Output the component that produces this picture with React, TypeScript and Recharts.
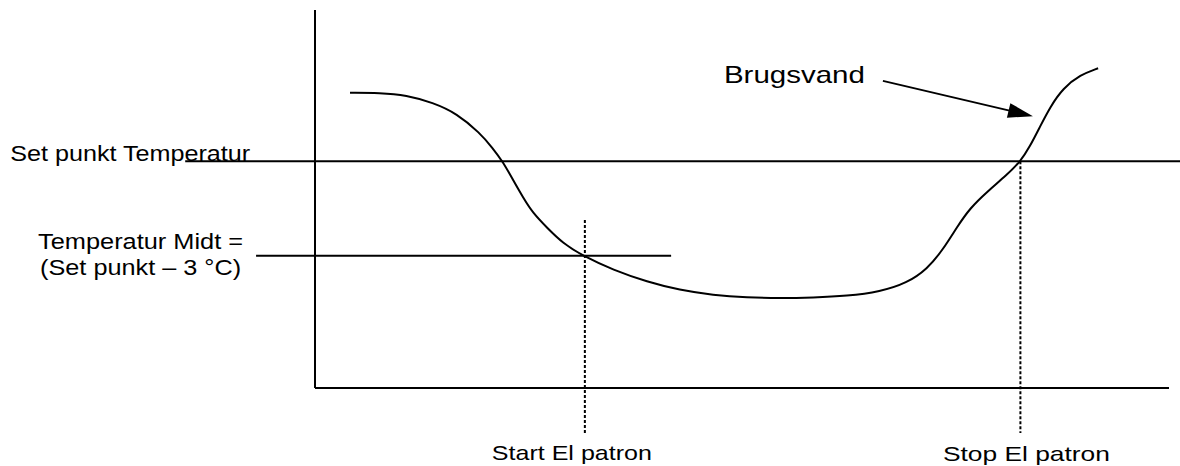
import React from "react";
import { LineChart, Line, XAxis, YAxis, ReferenceLine } from "recharts";

// Time (arbitrary units, 0..100) and temperature (°C) of the curve
const timeValues = [4.1, 7.6, 10.7, 13.8, 16.6, 19.3, 20.8, 22.0, 23.2, 24.4, 25.5, 27.2, 29.0, 31.4, 34.9, 38.9, 42.7, 46.6, 50.6, 54.5, 58.3, 62.3, 66.2, 69.3, 71.7, 73.5, 75.2, 76.7, 78.7, 81.0, 82.6, 83.7, 84.9, 86.1, 87.6, 89.6, 91.7];
const tempValues = [49.37, 49.37, 49.3, 49.06, 48.72, 48.1, 47.62, 47.18, 46.6, 46.03, 45.56, 45.08, 44.6, 44.19, 43.75, 43.37, 43.11, 42.95, 42.87, 42.85, 42.87, 42.92, 43.06, 43.33, 43.78, 44.38, 45.12, 45.71, 46.23, 46.76, 47.19, 47.66, 48.3, 48.93, 49.52, 49.94, 50.15];

const setPoint = 47.2;
const midPoint = 44.2; // set point - 3 °C
const startTime = 31.6;
const stopTime = 82.6;
const xDomain = [0, 100];
const yDomain = [40, 52];

const setLineSpan = [-15.2, 101.3];
const midLineSpan = [-6.9, 41.7];
const startMarkerSpan = [45.33, 38.57];
const stopMarkerSpan = [setPoint, 38.57];
const arrowFrom = { x: 66.5, y: 49.75 };
const arrowTo = { x: 84.07, y: 48.63 };

const labels = {
  setPoint: "Set punkt Temperatur",
  midLine1: "Temperatur Midt =",
  midLine2: "(Set punkt \u2013 3 \u00b0C)",
  start: "Start El patron",
  stop: "Stop El patron",
  water: "Brugsvand",
};

const data = timeValues.map((t, i) => ({ t, temp: tempValues[i] }));

const FONT = "'Liberation Sans', Arial, sans-serif";

type TL = { text: string; dx: number; dy: number; size: number; len: number; anchor?: "start" | "middle" | "end"; fromBottom?: boolean };

const MultiLabel = (props: any) => {
  const { viewBox, items } = props;
  if (!viewBox) return null;
  return (
    <g>
      {(items as TL[]).map((it, i) => {
        const baseY = it.fromBottom ? viewBox.y + viewBox.height : viewBox.y;
        return (
          <text
            key={i}
            x={viewBox.x + it.dx}
            y={baseY + it.dy}
            fontFamily={FONT}
            fontSize={it.size}
            fill="#000"
            textAnchor={it.anchor || "start"}
            textLength={it.len}
            lengthAdjust="spacingAndGlyphs"
          >
            {it.text}
          </text>
        );
      })}
    </g>
  );
};

const ArrowShape = (props: any) => {
  const { x1, y1, x2, y2 } = props;
  if ([x1, y1, x2, y2].some((v) => typeof v !== "number" || isNaN(v))) return null;
  const dx = x2 - x1;
  const dy = y2 - y1;
  const L = Math.sqrt(dx * dx + dy * dy);
  const ux = dx / L;
  const uy = dy / L;
  const headLen = 25;
  const headW = 7.5;
  const bx = x2 - ux * headLen;
  const by = y2 - uy * headLen;
  const px = -uy;
  const py = ux;
  return (
    <g>
      <line x1={x1} y1={y1} x2={bx + ux * 2} y2={by + uy * 2} stroke="#000" strokeWidth={2} />
      <polygon
        points={`${x2},${y2} ${bx + px * headW},${by + py * headW} ${bx - px * headW},${by - py * headW}`}
        fill="#000"
      />
    </g>
  );
};

export default function App() {
  return (
    <div style={{ position: "absolute", left: 0, top: 0, width: 1180, height: 466, background: "#fff" }}>
      <LineChart width={1180} height={466} data={data} margin={{ top: 10, right: 11, bottom: 77, left: 314 }}>
        <XAxis
          dataKey="t"
          type="number"
          domain={xDomain}
          allowDataOverflow
          tick={false}
          tickLine={false}
          height={1}
          axisLine={{ stroke: "#000", strokeWidth: 2 }}
        />
        <YAxis
          type="number"
          domain={yDomain}
          allowDataOverflow
          tick={false}
          tickLine={false}
          width={1}
          axisLine={{ stroke: "#000", strokeWidth: 2 }}
        />
        <ReferenceLine
          segment={[{ x: setLineSpan[0], y: setPoint }, { x: setLineSpan[1], y: setPoint }]}
          ifOverflow="visible"
          stroke="#000"
          strokeWidth={2}
          label={<MultiLabel items={[{ text: labels.setPoint, dx: -175, dy: 0, size: 22, len: 240 }]} />}
        />
        <ReferenceLine
          segment={[{ x: midLineSpan[0], y: midPoint }, { x: midLineSpan[1], y: midPoint }]}
          ifOverflow="visible"
          stroke="#000"
          strokeWidth={2}
          label={
            <MultiLabel
              items={[
                { text: labels.midLine1, dx: -115.5, dy: -7, size: 22, len: 205, anchor: "middle" },
                { text: labels.midLine2, dx: -115.5, dy: 19, size: 22, len: 201, anchor: "middle" },
              ]}
            />
          }
        />
        <ReferenceLine
          segment={[{ x: startTime, y: startMarkerSpan[0] }, { x: startTime, y: startMarkerSpan[1] }]}
          ifOverflow="visible"
          stroke="#000"
          strokeWidth={2}
          strokeDasharray="3 2"
          label={<MultiLabel items={[{ text: labels.start, dx: -13, dy: 27, size: 21, len: 160, anchor: "middle", fromBottom: true }]} />}
        />
        <ReferenceLine
          segment={[{ x: stopTime, y: stopMarkerSpan[0] }, { x: stopTime, y: stopMarkerSpan[1] }]}
          ifOverflow="visible"
          stroke="#000"
          strokeWidth={2}
          strokeDasharray="3 2"
          label={<MultiLabel items={[{ text: labels.stop, dx: 6, dy: 28, size: 21, len: 167, anchor: "middle", fromBottom: true }]} />}
        />
        <ReferenceLine
          segment={[arrowFrom, arrowTo]}
          ifOverflow="visible"
          shape={<ArrowShape />}
          label={<MultiLabel items={[{ text: labels.water, dx: -159, dy: 2, size: 24, len: 141 }]} />}
        />
        <Line
          dataKey="temp"
          type="basis"
          stroke="#000"
          strokeWidth={2}
          dot={false}
          activeDot={false}
          isAnimationActive={false}
        />
      </LineChart>
    </div>
  );
}
